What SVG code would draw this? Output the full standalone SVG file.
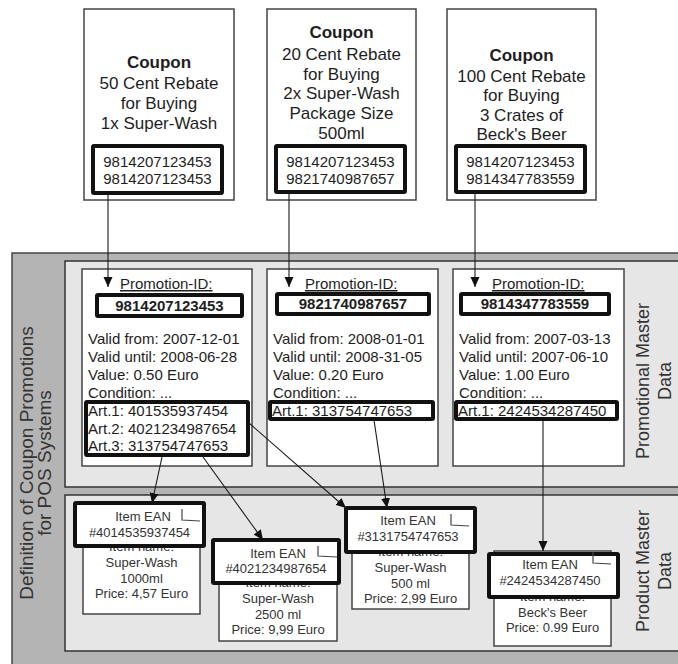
<svg xmlns="http://www.w3.org/2000/svg" width="678" height="664" viewBox="0 0 678 664">
  <style>
    text { font-family: "Liberation Sans", Arial, sans-serif; fill: #1e1e1e; }
    .frame { fill: #b4b4b4; stroke: #444; stroke-width: 1.5; }
    .panel { fill: #e6e6e6; stroke: #333; stroke-width: 1.5; }
    .box { fill: #fff; stroke: #444; stroke-width: 1.5; }
    .thick { fill: #fff; stroke: #111; stroke-width: 4; }
    .fold { fill: none; stroke: #444; stroke-width: 1.2; }
    .c17 { font-size: 17px; text-anchor: middle; }
    .c17b { font-size: 17px; font-weight: bold; text-anchor: middle; }
    .code { font-size: 15px; text-anchor: middle; }
    .pid { font-size: 15px; text-decoration: underline; }
    .idb { font-size: 15px; font-weight: bold; text-anchor: middle; }
    .t15 { font-size: 15px; }
    .p13 { font-size: 13px; text-anchor: middle; fill: #333; }
    .lbl { font-size: 19px; text-anchor: middle; fill: #333; }
    .lbl2 { font-size: 18px; text-anchor: middle; fill: #333; }
    .conn { stroke: #1a1a1a; stroke-width: 1.1; fill: none; }
  </style>
  <defs>
    <marker id="arr" viewBox="0 0 10 10" refX="10" refY="5" markerWidth="10" markerHeight="10" markerUnits="userSpaceOnUse" orient="auto">
      <path d="M0,0.5 L10,5 L0,9.5 z" fill="#111"/>
    </marker>
  </defs>

  <!-- background areas -->
  <g id="frame">
    <rect class="frame" x="12" y="253" width="700" height="430"/>
    <text class="lbl" transform="translate(33,463) rotate(-90)">Definition of Coupon Promotions</text>
    <text class="lbl" transform="translate(51,463) rotate(-90)">for POS Systems</text>
  </g>
  <g id="promo-panel">
    <rect class="panel" x="65" y="261" width="640" height="226"/>
    <text class="lbl2" transform="translate(649,381) rotate(-90)">Promotional Master</text>
    <text class="lbl2" transform="translate(671,381) rotate(-90)">Data</text>
  </g>
  <g id="product-panel">
    <rect class="panel" x="65" y="495" width="640" height="156"/>
    <text class="lbl2" transform="translate(649,571) rotate(-90)">Product Master</text>
    <text class="lbl2" transform="translate(671,571) rotate(-90)">Data</text>
  </g>

  <!-- coupons -->
  <g id="coupon1">
    <rect class="box" x="84" y="9" width="150" height="191"/>
    <text class="c17b" x="159" y="68">Coupon</text>
    <text class="c17" x="159" y="89">50 Cent Rebate</text>
    <text class="c17" x="159" y="109">for Buying</text>
    <text class="c17" x="159" y="129">1x Super-Wash</text>
    <rect class="thick" x="93" y="146" width="129" height="47" rx="1"/>
    <text class="code" x="157.5" y="167">9814207123453</text>
    <text class="code" x="157.5" y="184">9814207123453</text>
  </g>
  <g id="coupon2">
    <rect class="box" x="267" y="9" width="149" height="191"/>
    <text class="c17b" x="341.5" y="38">Coupon</text>
    <text class="c17" x="341.5" y="60">20 Cent Rebate</text>
    <text class="c17" x="341.5" y="80">for Buying</text>
    <text class="c17" x="341.5" y="99">2x Super-Wash</text>
    <text class="c17" x="341.5" y="119">Package Size</text>
    <text class="c17" x="341.5" y="139">500ml</text>
    <rect class="thick" x="276" y="146" width="129" height="46" rx="1"/>
    <text class="code" x="340.5" y="167">9814207123453</text>
    <text class="code" x="340.5" y="184">9821740987657</text>
  </g>
  <g id="coupon3">
    <rect class="box" x="447" y="9" width="149" height="191"/>
    <text class="c17b" x="521.5" y="61">Coupon</text>
    <text class="c17" x="521.5" y="82">100 Cent Rebate</text>
    <text class="c17" x="521.5" y="101">for Buying</text>
    <text class="c17" x="521.5" y="121">3 Crates of</text>
    <text class="c17" x="521.5" y="140">Beck's Beer</text>
    <rect class="thick" x="456" y="146" width="129" height="46" rx="1"/>
    <text class="code" x="520.5" y="167">9814207123453</text>
    <text class="code" x="520.5" y="184">9814347783559</text>
  </g>

  <!-- promotions -->
  <g id="promo1">
    <rect class="box" x="82" y="269" width="170" height="197"/>
    <text class="pid" x="120" y="289">Promotion-ID:</text>
    <rect class="thick" x="97" y="295" width="145" height="21" rx="1"/>
    <text class="idb" x="169.5" y="311">9814207123453</text>
    <text class="t15" x="88" y="344">Valid from: 2007-12-01</text>
    <text class="t15" x="88" y="362">Valid until: 2008-06-28</text>
    <text class="t15" x="88" y="380">Value: 0.50 Euro</text>
    <text class="t15" x="88" y="398">Condition: ...</text>
    <rect class="thick" x="86" y="402" width="162" height="53" rx="1"/>
    <text class="t15" x="88" y="416">Art.1: 401535937454</text>
    <text class="t15" x="88" y="434">Art.2: 4021234987654</text>
    <text class="t15" x="88" y="451">Art.3: 313754747653</text>
  </g>
  <g id="promo2">
    <rect class="box" x="267" y="269" width="171" height="197"/>
    <text class="pid" x="305" y="289">Promotion-ID:</text>
    <rect class="thick" x="277" y="294" width="152" height="20" rx="1"/>
    <text class="idb" x="353" y="309">9821740987657</text>
    <text class="t15" x="273" y="344">Valid from: 2008-01-01</text>
    <text class="t15" x="273" y="362">Valid until: 2008-31-05</text>
    <text class="t15" x="273" y="380">Value: 0.20 Euro</text>
    <text class="t15" x="273" y="398">Condition: ...</text>
    <rect class="thick" x="270" y="402" width="163" height="17" rx="1"/>
    <text class="t15" x="272" y="416">Art.1: 313754747653</text>
  </g>
  <g id="promo3">
    <rect class="box" x="453" y="269" width="171" height="197"/>
    <text class="pid" x="492" y="289">Promotion-ID:</text>
    <rect class="thick" x="461" y="294" width="148" height="20" rx="1"/>
    <text class="idb" x="535" y="309">9814347783559</text>
    <text class="t15" x="459" y="344">Valid from: 2007-03-13</text>
    <text class="t15" x="459" y="362">Valid until: 2007-06-10</text>
    <text class="t15" x="459" y="380">Value: 1.00 Euro</text>
    <text class="t15" x="459" y="398">Condition: ...</text>
    <rect class="thick" x="456" y="402" width="161" height="17" rx="1"/>
    <text class="t15" x="458" y="416">Art.1: 2424534287450</text>
  </g>

  <!-- products -->
  <g id="product1">
    <rect class="box" x="83" y="508" width="117" height="106"/>
    <text class="p13" x="141.5" y="551">Item name:</text>
    <text class="p13" x="141.5" y="567">Super-Wash</text>
    <text class="p13" x="141.5" y="583">1000ml</text>
    <text class="p13" x="141.5" y="598">Price: 4,57 Euro</text>
    <rect class="thick" x="75" y="503" width="129" height="43" rx="1"/>
    <path class="fold" d="M182,509 V520 L200,521"/>
    <text class="p13" x="143" y="521">Item EAN</text>
    <text class="p13" x="139.5" y="537">#4014535937454</text>
  </g>
  <g id="product2">
    <rect class="box" x="219" y="543" width="118" height="98"/>
    <text class="p13" x="278" y="587">Item name:</text>
    <text class="p13" x="278" y="603">Super-Wash</text>
    <text class="p13" x="278" y="619">2500 ml</text>
    <text class="p13" x="278" y="634">Price: 9,99 Euro</text>
    <rect class="thick" x="213" y="540" width="126" height="43" rx="1"/>
    <path class="fold" d="M318,546 V556 L337,557"/>
    <text class="p13" x="278" y="558">Item EAN</text>
    <text class="p13" x="276" y="573">#4021234987654</text>
  </g>
  <g id="product3">
    <rect class="box" x="352" y="512" width="117" height="97"/>
    <text class="p13" x="410.5" y="556">Item name:</text>
    <text class="p13" x="410.5" y="572">Super-Wash</text>
    <text class="p13" x="410.5" y="588">500 ml</text>
    <text class="p13" x="410.5" y="603">Price: 2,99 Euro</text>
    <rect class="thick" x="346" y="508" width="129" height="44" rx="1"/>
    <path class="fold" d="M451,514 V525 L469,526"/>
    <text class="p13" x="408" y="525">Item EAN</text>
    <text class="p13" x="408" y="541">#3131754747653</text>
  </g>
  <g id="product4">
    <rect class="box" x="494" y="551" width="117" height="95"/>
    <text class="p13" x="552.5" y="601">Item name:</text>
    <text class="p13" x="552.5" y="617">Beck's Beer</text>
    <text class="p13" x="552.5" y="632">Price: 0.99 Euro</text>
    <rect class="thick" x="489" y="554" width="129" height="43" rx="1"/>
    <path class="fold" d="M593,552 V563 L611,564"/>
    <text class="p13" x="550" y="569">Item EAN</text>
    <text class="p13" x="550" y="585">#2424534287450</text>
  </g>

  <!-- connectors -->
  <g id="connectors">
    <line class="conn" x1="108" y1="193" x2="108" y2="287" marker-end="url(#arr)"/>
    <line class="conn" x1="289" y1="192" x2="289" y2="287" marker-end="url(#arr)"/>
    <line class="conn" x1="475" y1="192" x2="475" y2="287" marker-end="url(#arr)"/>
    <line class="conn" x1="162" y1="457" x2="152" y2="503" marker-end="url(#arr)"/>
    <line class="conn" x1="203" y1="457" x2="263" y2="540" marker-end="url(#arr)"/>
    <line class="conn" x1="249" y1="423" x2="346" y2="508" marker-end="url(#arr)"/>
    <line class="conn" x1="374" y1="420" x2="387" y2="508" marker-end="url(#arr)"/>
    <line class="conn" x1="543" y1="420" x2="543" y2="551" marker-end="url(#arr)"/>
  </g>
</svg>
